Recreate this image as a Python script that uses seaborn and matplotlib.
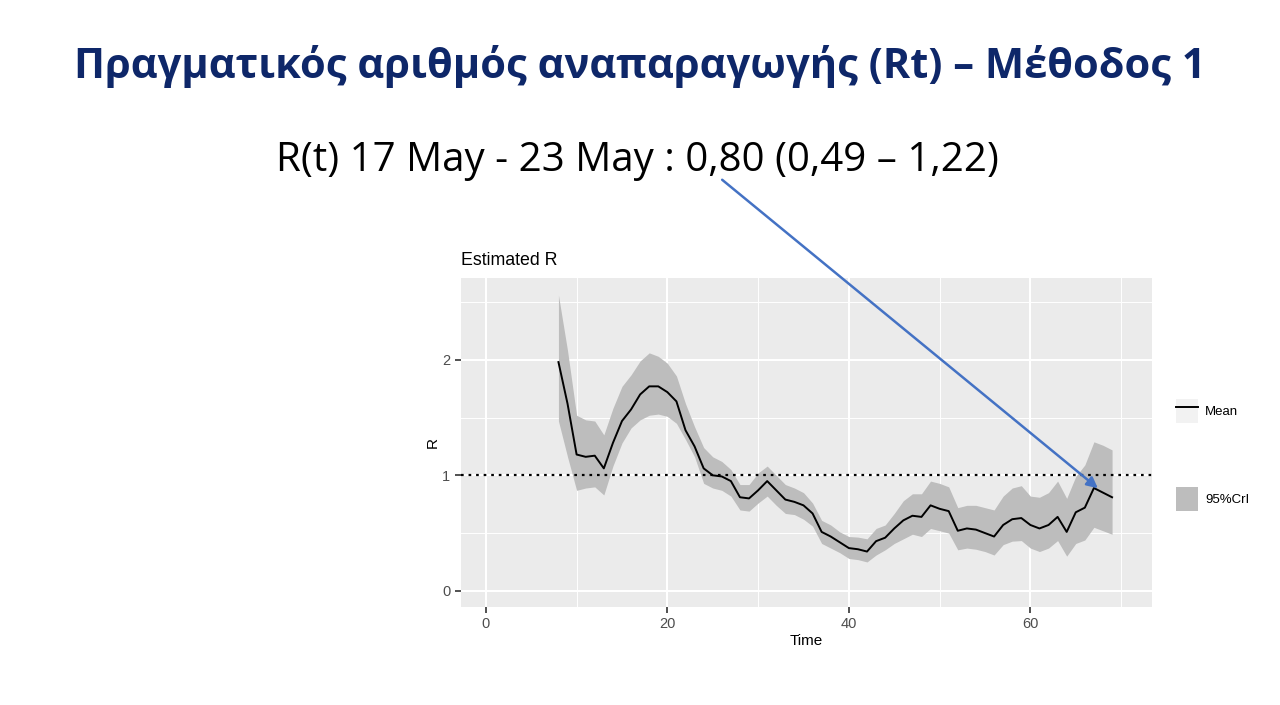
import numpy as np
import pandas as pd
import seaborn as sns
import matplotlib.pyplot as plt
from matplotlib.lines import Line2D
from matplotlib.patches import Patch, FancyArrowPatch
from matplotlib.legend_handler import HandlerTuple

# estimated R, days 8..69
time = list(range(8, 70))
r_mean = [1.98, 1.62, 1.18, 1.16, 1.17, 1.06, 1.28, 1.47, 1.57, 1.70,
          1.77, 1.77, 1.72, 1.64, 1.39, 1.25, 1.06, 1.00, 0.99, 0.95,
          0.81, 0.80, 0.87, 0.95, 0.87, 0.79, 0.77, 0.74, 0.67, 0.51,
          0.47, 0.42, 0.37, 0.36, 0.34, 0.43, 0.46, 0.54, 0.61, 0.65,
          0.64, 0.74, 0.71, 0.69, 0.52, 0.54, 0.53, 0.50, 0.47, 0.57,
          0.62, 0.63, 0.57, 0.54, 0.57, 0.64, 0.51, 0.68, 0.72, 0.89,
          0.85, 0.81]
r_upper = [2.56, 2.08, 1.52, 1.48, 1.47, 1.35, 1.58, 1.77, 1.87, 1.99,
           2.06, 2.03, 1.97, 1.86, 1.62, 1.42, 1.24, 1.16, 1.12, 1.05,
           0.92, 0.92, 1.02, 1.08, 1.00, 0.92, 0.89, 0.85, 0.76, 0.61,
           0.57, 0.51, 0.47, 0.465, 0.45, 0.54, 0.57, 0.67, 0.78, 0.84,
           0.84, 0.95, 0.93, 0.90, 0.72, 0.74, 0.74, 0.72, 0.70, 0.82,
           0.89, 0.91, 0.82, 0.81, 0.85, 0.95, 0.80, 0.99, 1.09, 1.29,
           1.26, 1.22]
r_lower = [1.47, 1.16, 0.87, 0.89, 0.90, 0.83, 1.08, 1.28, 1.41, 1.48,
           1.52, 1.53, 1.51, 1.45, 1.31, 1.16, 0.93, 0.89, 0.87, 0.82,
           0.70, 0.69, 0.76, 0.82, 0.74, 0.67, 0.66, 0.62, 0.56, 0.41,
           0.37, 0.33, 0.28, 0.27, 0.25, 0.31, 0.355, 0.41, 0.45, 0.49,
           0.47, 0.54, 0.52, 0.50, 0.355, 0.37, 0.36, 0.34, 0.31, 0.40,
           0.43, 0.435, 0.37, 0.34, 0.37, 0.435, 0.30, 0.41, 0.44, 0.55,
           0.52, 0.49]

df = pd.DataFrame({'Time': time, 'Mean': r_mean, 'Upper': r_upper, 'Lower': r_lower})

fig = plt.figure(figsize=(12.8, 7.05), dpi=100)
fig.patch.set_facecolor('white')

fig.text(0.5, 0.906, 'Πραγματικός αριθμός αναπαραγωγής (Rt) – Μέθοδος 1',
         ha='center', va='center', fontsize=30, fontweight='bold',
         color='#0E2769', family='Open Sans')
fig.text(0.498, 0.772, 'R(t) 17 May - 23 May : 0,80 (0,49 – 1,22)',
         ha='center', va='center', fontsize=29, color='black', family='Open Sans')

ax = fig.add_axes([0.360, 0.139, 0.540, 0.467])
ax.set_facecolor('#EBEBEB')

ax.fill_between(df['Time'], df['Lower'], df['Upper'], color='#BDBDBD', lw=0, zorder=2)
sns.lineplot(data=df, x='Time', y='Mean', color='black', lw=1.4, ax=ax, zorder=3)
ax.axhline(1, color='black', ls=(0, (1.2, 2.2)), lw=1.6, zorder=4)

ax.set_xlim(-2.76, 73.4)
ax.set_ylim(-0.14, 2.71)
ax.set_xticks([0, 20, 40, 60])
ax.set_yticks([0, 1, 2])
ax.set_xticks([10, 30, 50, 70], minor=True)
ax.set_yticks([0.5, 1.5, 2.5], minor=True)
ax.grid(True, which='major', color='white', lw=1.5, zorder=1)
ax.grid(True, which='minor', color='white', lw=0.7, zorder=1)
ax.set_axisbelow(True)
for s in ax.spines.values():
    s.set_visible(False)
ax.tick_params(which='major', length=4, width=1.2, color='#333333',
               labelcolor='#4D4D4D', labelsize=10.5)
ax.tick_params(which='minor', length=0)
for lab in ax.get_xticklabels() + ax.get_yticklabels():
    lab.set_family('Liberation Sans')
ax.set_xlabel('Time', fontsize=11, family='Liberation Sans', labelpad=2)
ax.set_ylabel('R', fontsize=11, family='Liberation Sans', labelpad=2)
ax.set_title('Estimated R', loc='left', fontsize=12.8, family='Liberation Sans', pad=9)

handles = [(Patch(facecolor='#F2F2F2', edgecolor='none'), Line2D([], [], color='black', lw=1.4)),
           Patch(facecolor='#BDBDBD', edgecolor='none')]
fig.legend(handles, ['Mean', '95%CrI'], handler_map={tuple: HandlerTuple(ndivide=1, pad=0)},
           loc='upper left', bbox_to_anchor=(1176 / 1280, 1 - 399 / 705),
           bbox_transform=fig.transFigure, frameon=False, borderpad=0, borderaxespad=0,
           labelspacing=4.9, handlelength=1.7, handleheight=2.4, handletextpad=0.5,
           prop={'family': 'Liberation Sans', 'size': 9.5})

# arrow pointing at the last estimate
fig.add_artist(FancyArrowPatch(
    (720 / 1280, 1 - 178 / 705), (1100 / 1280, 1 - 490 / 705),
    transform=fig.transFigure, arrowstyle='-|>', mutation_scale=16,
    color='#4472C4', lw=1.8))

fig.savefig('out.png', dpi=100)
